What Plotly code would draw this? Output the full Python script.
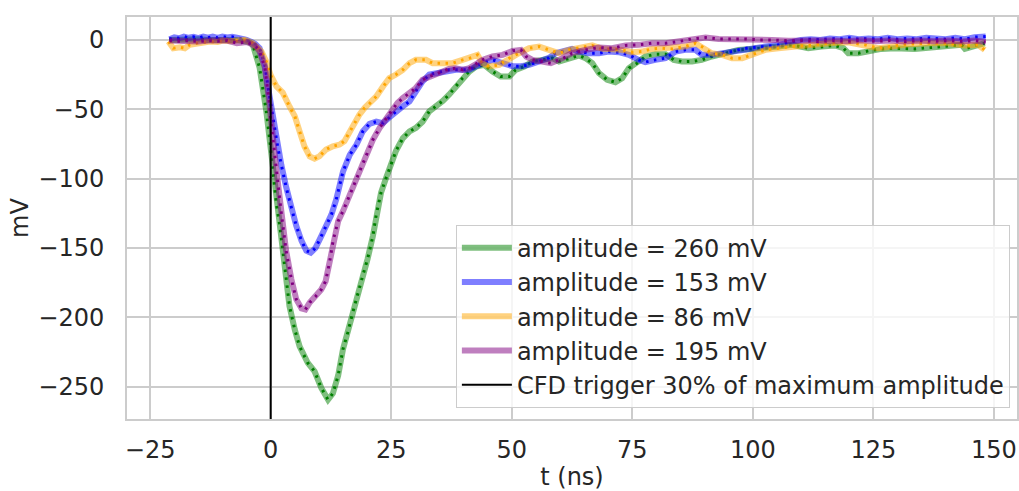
import plotly.graph_objects as go

# ---- data ----
t_260 = [-21, -19, -17, -15, -13, -11, -9, -7, -5.5, -4.5, -3.7, -2.3, -0.9, 0, 0.5, 1.2, 1.9, 2.9, 3.9, 5.0,
         6.0, 7.7, 9.1, 10.5, 11.9, 12.9, 14.0, 15.0, 16.0, 17.0, 18.1, 19.1, 20.1, 21.2, 21.9, 22.9, 23.9, 25,
         26, 27.4, 28.8, 30.1, 31.5, 32.9, 34.3, 35.7, 37, 38.4, 39.8, 41.2, 42.6, 44.3, 46, 47.7, 49.5, 50.8,
         52.6, 54.3, 56.3, 58.4, 59.8, 61.9, 63.9, 65.3, 66.7, 68.1, 69.8, 71.5, 72.9, 74.3, 76, 77.7, 79.8,
         81.9, 83.6, 85.3, 87.4, 89.4, 91.5, 94.3, 97, 99.8, 102.6, 105.3, 108.1, 111.5, 114.3, 117, 118.8,
         119.8, 121.9, 124, 126.7, 129.5, 133.6, 137, 140.5, 143.3, 144, 146, 148.1]
v_260 = [0, 0.5, 0, 0.5, 0, 0.5, 0, 0, -0.5, -1.5, -3.6, -20, -51.6, -78, -97, -119, -134, -165, -192, -209,
         -221, -233, -239, -251, -259.5, -255, -242, -223, -211, -197, -182, -170, -158, -141.5, -126, -110, -100, -90,
         -80, -71, -66, -63.5, -59, -51.5, -48, -44, -39.5, -33.6, -27.6, -22.8, -19.2, -18, -22.8, -26.4, -26.4, -21.6,
         -19.2, -15.6, -14.4, -13.2, -15.6, -13.2, -11.3, -13.2, -16.8, -24, -28.8, -30.5, -27.6, -20.4, -16.8, -12, -10.3,
         -10.3, -14.4, -15.6, -15.6, -14.4, -12, -9.6, -7.2, -6.5, -6, -4.8, -3.6, -6, -4.8, -4, -6,
         -9.6, -9.6, -7.9, -6.5, -6, -6.5, -5.5, -4, -3.6, -6.5, -4, -2.4]

t_153 = [-21, -20, -19, -18, -17, -16, -15, -14, -13, -12, -11, -10, -9, -8, -7, -6, -5, -4, -3.2, -2.3,
         -1.2, -0.6, 0, 0.8, 1.5, 2.2, 3.2, 4.3, 5.3, 6.4, 7.4, 8.3, 9.3, 10.5, 11.5, 12.6, 13.6, 15, 16.4, 17.8,
         19.1, 20.5, 21.9, 23.3, 24.6, 26, 27.4, 28.8, 30.1, 31.5, 32.9, 34.3, 35.7, 37, 38.4, 39.8, 41.2, 42.6,
         43.9, 46, 48.1, 50.2, 51.9, 53.6, 55.7, 57.7, 59.1, 61.2, 62.5, 63.9, 66, 68.1, 70.1, 72.2, 74.3, 76.3,
         77.7, 79.8, 81.9, 84, 86, 88.1, 89.4, 91.5, 93.6, 95.7, 97.8, 99.8, 102.6, 105.3, 108.1, 110, 112, 114,
         116, 118, 120, 122, 124, 126, 128, 130, 132, 134, 136, 138, 140, 142, 144, 146, 148.3]
v_153 = [0.5, 1.8, 1.2, 2.4, 1.5, 2.2, 1.3, 2.4, 1.6, 2.3, 1.5, 2.4, 1.8, 2.2, 1.5, 1.0, 0, -1.5, -3, -6,
         -18, -33, -46, -66, -78, -90, -106, -121, -134, -145, -152, -153.5, -150, -141.5, -134, -126, -115, -95, -83, -75.5,
         -66, -60.5, -59, -60, -56, -51.6, -48, -44.4, -37, -30, -25, -24, -22.8, -21.6, -21.6, -21.6, -21.6, -19,
         -16.8, -14.4, -16.8, -19, -19, -18, -15.6, -13, -9.6, -7.5, -6.5, -8.4, -9.6, -9.6, -8.4, -8.9, -10.8, -14.4,
         -16, -14.4, -13.2, -8.4, -7.2, -7.2, -10.8, -10.8, -9.6, -8.4, -6.5, -5.5, -4.8, -3.6, -1.2, 0, 0.5, 0,
         1, 0.5, 1.5, 0.5, 1, 0.5, 1.5, 0.5, 1, 0.5, 1.5, 1, 0.5, 1.5, 0.5, 2, 2.4]

t_86 = [-21.2, -20.2, -18.8, -17.8, -16.8, -14.7, -12.6, -11, -9.9, -8.5, -7.1, -5.4, -3.7, -1.9, -0.9, 0,
        1.2, 2.5, 3.9, 5, 6, 7, 8.1, 9.1, 10.1, 11.5, 12.9, 14.3, 15.3, 16.4, 17.4, 18.4, 19.5, 20.5, 21.9,
        23.3, 24.6, 26, 27.4, 28.8, 30.1, 32.2, 33.6, 35.7, 37.7, 39.8, 41.9, 42.9, 43.9, 45.3, 47.4, 49.5,
        51.5, 53.6, 55.7, 57.7, 59.8, 61.9, 63.9, 66.7, 68.8, 70.8, 72.9, 75, 77, 79.1, 81.2, 83.3, 86, 88.1,
        89.4, 91.5, 93.6, 95.7, 97.8, 99.8, 102.6, 105.3, 108.1, 111.5, 115.7, 119.8, 123.2, 126, 128.8, 132.2,
        136.4, 140.5, 144, 146.7, 148.1]
v_86 = [-1.2, -6, -5.3, -6, -3.6, -1.9, -1.2, -1.5, -0.5, -1, -0.5, 0, -2.4, -8.4, -15.6, -25.5,
        -33.6, -38, -48, -55, -66, -76.7, -84, -85.6, -84, -79, -76.7, -75.5, -73, -66, -60, -54, -49, -46, -40.8,
        -33.6, -27.6, -25, -21.6, -16.8, -14.4, -14.4, -16.8, -16.8, -16.8, -14.4, -12.7, -10.8, -16.8, -19.2, -18, -13.2,
        -9.6, -6, -4.8, -7.2, -9.6, -7.2, -6, -4, -6.5, -6.5, -7.2, -8.9, -8.4, -6.5, -6, -6.5, -4.8, -2.4,
        -4.8, -9.6, -10.8, -13.2, -13.2, -10.8, -7.2, -6, -4.8, -4, -2.4, -1.7, -3.6, -6, -4.8, -3.1,
        -2.4, -2.4, -4, -3.6, -7.2]

t_195 = [-21, -19, -17, -15, -13, -11, -9, -7, -5, -4, -3, -2.3, -1.2, -0.3, 0, 0.5, 1, 1.5, 2.2, 3.2,
         4.3, 5.3, 6.4, 7.2, 8.1, 9.3, 10.5, 11.4, 12.2, 13, 14, 15, 16, 17, 18.4, 19.8, 21.2, 22.6, 24, 25.3,
         26.3, 27.4, 28.8, 30.1, 31.5, 32.9, 34.3, 35.7, 37, 38.4, 39.8, 41.2, 42.6, 43.9, 46, 48.1, 50.2, 51.9,
         53, 54.3, 56.3, 58.1, 59.8, 61.5, 62.5, 65.3, 68.1, 70.8, 73.6, 76.3, 79.1, 81.9, 84.6, 87.4, 90.2,
         92.9, 95.7, 98.4, 101.2, 104, 107.4, 110.5, 113.5, 116.5, 119.5, 122.5, 125.5, 128.5, 131.5, 134.5,
         137.5, 140.5, 143.5, 146, 148.3]
v_195 = [-0.5, -1, -0.5, -1.2, -0.5, -1, -0.5, -2.4, -1.5, -3, -5, -8.4, -20, -45, -58, -72, -88, -103, -124.7, -152,
         -172.7, -187, -193.7, -194.5, -189.4, -185, -180, -174, -160.7, -144, -130.7, -123.5, -115, -107, -94.7, -82.7, -72, -63.5, -56, -50,
         -45.5, -42, -38.3, -34.7, -28.8, -26.4, -24.7, -22.8, -20.9, -20.4, -21.6, -20.4, -17.5, -14.4, -12, -10.8, -7.9, -7.2,
         -12, -14.4, -15.6, -16.8, -14.4, -12, -9.6, -7.2, -5.5, -6, -4, -3.6, -2.4, -2.4, -1.2, 0.7, 1.7,
         0.7, 0.7, 0.7, 0, 0, -0.7, -0.5, -1.2, -0.5, -1, -0.3, -1, -0.5, -1.2, -0.5,
         -1, -0.5, -1.2, -0.5, -1.5]

series = [
    ("amplitude = 260 mV", t_260, v_260, "0,128,0"),
    ("amplitude = 153 mV", t_153, v_153, "0,0,255"),
    ("amplitude = 86 mV", t_86, v_86, "255,165,0"),
    ("amplitude = 195 mV", t_195, v_195, "128,0,128"),
]

cfd_t = [0, 0]
cfd_v = [-273.4, 16.5]

x_range = [-29.8, 154.8]
y_range = [-273.4, 16.5]

TXT = "#262626"
GRID = "#cccccc"
FONT = "DejaVu Sans"

fig = go.Figure()
for i, (name, t, v, rgb) in enumerate(series):
    fig.add_trace(go.Scatter(x=t, y=v, mode="lines", name=name, legendgroup=f"g{i}",
                             line=dict(color=f"rgba({rgb},0.5)", width=6)))
    fig.add_trace(go.Scatter(x=t, y=v, mode="lines", showlegend=False, legendgroup=f"g{i}",
                             hoverinfo="skip",
                             line=dict(color=f"rgb({rgb})", width=3, dash="2.5px,5.5px")))

fig.add_trace(go.Scatter(x=cfd_t, y=cfd_v, mode="lines", name="CFD trigger 30% of maximum amplitude",
                         legendgroup="cfd", line=dict(color="black", width=2)))

fig.update_layout(
    width=1019, height=491,
    margin=dict(l=127, r=0, t=17, b=71),
    paper_bgcolor="white", plot_bgcolor="white",
    font=dict(family=FONT, size=24, color=TXT),
    legend=dict(x=0.992, y=0.028, xanchor="right", yanchor="bottom",
                bgcolor="rgba(255,255,255,0.8)", bordercolor=GRID, borderwidth=1,
                font=dict(size=24, color=TXT), itemwidth=50, tracegroupgap=0),
    showlegend=True,
)
fig.update_xaxes(range=x_range, tickvals=[-25, 0, 25, 50, 75, 100, 125, 150],
                 showgrid=True, gridcolor=GRID, gridwidth=2, zeroline=False,
                 showline=True, linecolor=GRID, linewidth=2, mirror=True,
                 ticks="", ticklabelstandoff=8,
                 title=dict(text="t (ns)", standoff=10, font=dict(size=24, color=TXT)))
fig.update_yaxes(range=y_range, tickvals=[0, -50, -100, -150, -200, -250],
                 showgrid=True, gridcolor=GRID, gridwidth=2, zeroline=False,
                 showline=True, linecolor=GRID, linewidth=2, mirror=True,
                 ticks="", ticklabelstandoff=16,
                 title=dict(text="mV", standoff=3, font=dict(size=24, color=TXT)))

fig.write_html("out.html")
